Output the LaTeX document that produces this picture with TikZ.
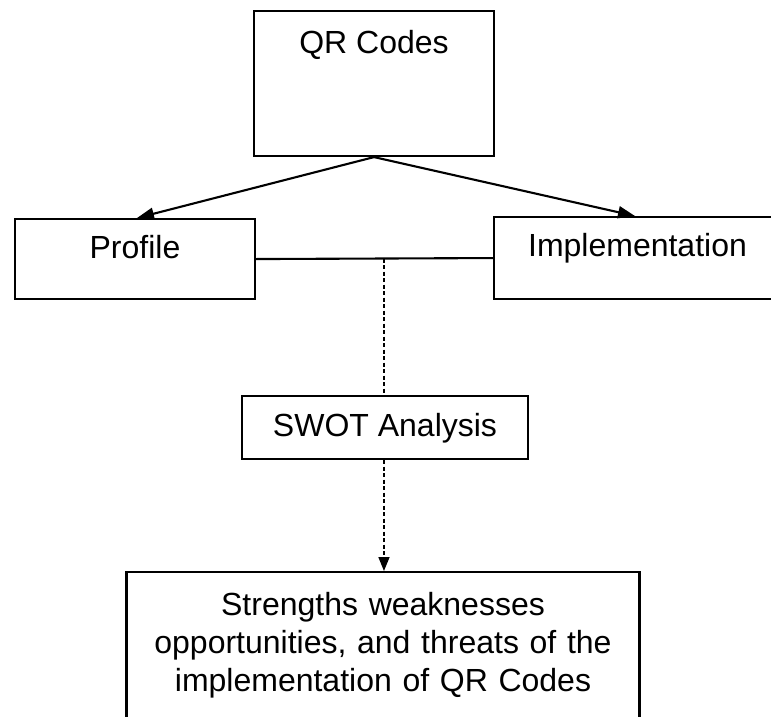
\documentclass[tikz,border=0pt]{standalone}
\usepackage{fontspec}
\setmainfont{Liberation Sans}
\usetikzlibrary{arrows.meta,calc}
\begin{document}
\begin{tikzpicture}[x=1pt,y=-1pt,
  box/.style={draw,line width=2.1pt,inner sep=0pt,anchor=north,
    font=\fontsize{32}{38}\selectfont},
  solidarrow/.style={line width=2.1pt,-{Triangle[length=17pt,width=12pt]}},
  link/.style={line width=2.1pt},
  dashlink/.style={line width=1.6pt,dash pattern=on 4pt off 2.5pt},
  dasharrow/.style={dashlink,-{Triangle[length=14pt,width=11pt]}}]
\clip (0,0) rectangle (771,717);
\fill[white] (0,0) rectangle (771,717);
\node[box,minimum width=240pt,text height=42pt,text depth=103pt] (qr) at (374,10) {QR Codes};
\node[box,minimum width=240pt,text height=39pt,text depth=41pt] (prof) at (135,218) {Profile};
\node[box,minimum width=287pt,text height=39pt,text depth=43pt] (impl) at (637.5,216) {Implementation};
\node[box,minimum width=286pt,text height=40pt,text depth=23pt] (swot) at (385,395) {SWOT Analysis};
\node[box,text width=513pt,align=center,inner ysep=20pt] (res) at (383,571)
  {Strengths weaknesses\\ opportunities, and threats of the\\ implementation of QR Codes\par\vspace*{30pt}};
\draw[solidarrow] (qr.south) -- ($(prof.north)+(2,0)$);
\draw[solidarrow] (qr.south) -- ($(impl.north)+(-2.5,0)$);
\draw[link] (prof.east) -- coordinate[pos=0.54] (mid) (impl.west);
\draw[dashlink] (mid) -- (mid |- swot.north);
\draw[dasharrow] (mid |- swot.south) -- (mid |- res.north);
\end{tikzpicture}
\end{document}
